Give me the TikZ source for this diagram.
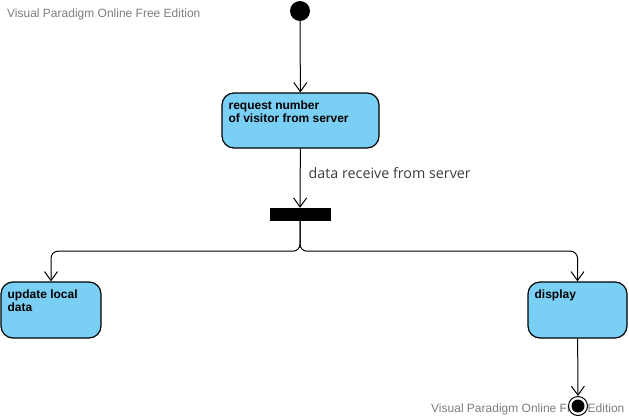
\documentclass[tikz,border=0pt]{standalone}
\usepackage{fontspec}
\setmainfont{Liberation Sans}
\newfontfamily\labelfont{Open Sans}
\usetikzlibrary{arrows.meta}
\usepackage{xcolor}
\definecolor{actfill}{RGB}{122,207,245}
\definecolor{wmgray}{RGB}{125,125,125}
\definecolor{labgray}{RGB}{60,60,60}

\begin{document}
\begin{tikzpicture}[x=1pt,y=-1pt,>={Straight Barb[length=9pt,width=13pt,line width=1pt]},
  act/.style={draw,fill=actfill,rounded corners=12pt,line width=1.2pt,inner sep=0pt},
  acttext/.style={anchor=north west,inner sep=0pt,align=left,font=\bfseries\fontsize{12}{13.5}\selectfont},
  flow/.style={->,line width=1pt},
  wm/.style={anchor=base west,inner sep=0pt,text=wmgray,font=\fontsize{12}{14}\selectfont}]
\useasboundingbox (0,0) rectangle (629,418);
\node[wm] (wmtop) at (7,17) {Visual Paradigm Online Free Edition};
\node[wm] (wmbot) at (431,412) {Visual Paradigm Online Free Edition};
\node[circle,fill,minimum size=20pt,inner sep=0pt] (init) at (300,11) {};
\node[act,minimum width=157pt,minimum height=55pt] (req) at (300.5,120.5) {};
\node[acttext] (reqtxt) at ([xshift=7pt,yshift=-8pt]req.north west) {request number\\of visitor from server};
\node[fill,minimum width=61pt,minimum height=13pt,inner sep=0pt] (fork) at (300,214.5) {};
\node[act,minimum width=100pt,minimum height=56pt] (upd) at (51,310) {};
\node[acttext] (updtxt) at ([xshift=7pt,yshift=-8pt]upd.north west) {update local\\data};
\node[act,minimum width=99pt,minimum height=56pt] (disp) at (577.5,310) {};
\node[acttext] (disptxt) at ([xshift=7pt,yshift=-8pt]disp.north west) {display};
\node[circle,draw,fill=white,line width=1pt,minimum size=19pt,inner sep=0pt] (final) at (578,406) {};
\fill (final.center) circle (6.5pt);
\draw[flow] (init) -- (req);
\draw[flow] (req) -- (fork) node[midway,anchor=base west,inner sep=0pt,xshift=8pt,text=labgray,font=\labelfont\fontsize{14.3}{17}\selectfont]{data receive from server};
\draw[flow,rounded corners=7pt] (fork.south) -- ++(0,30) -| (upd.north);
\draw[flow,rounded corners=7pt] (fork.south) -- ++(0,30) -| (disp.north);
\draw[flow] (disp) -- (final);
\end{tikzpicture}
\end{document}
